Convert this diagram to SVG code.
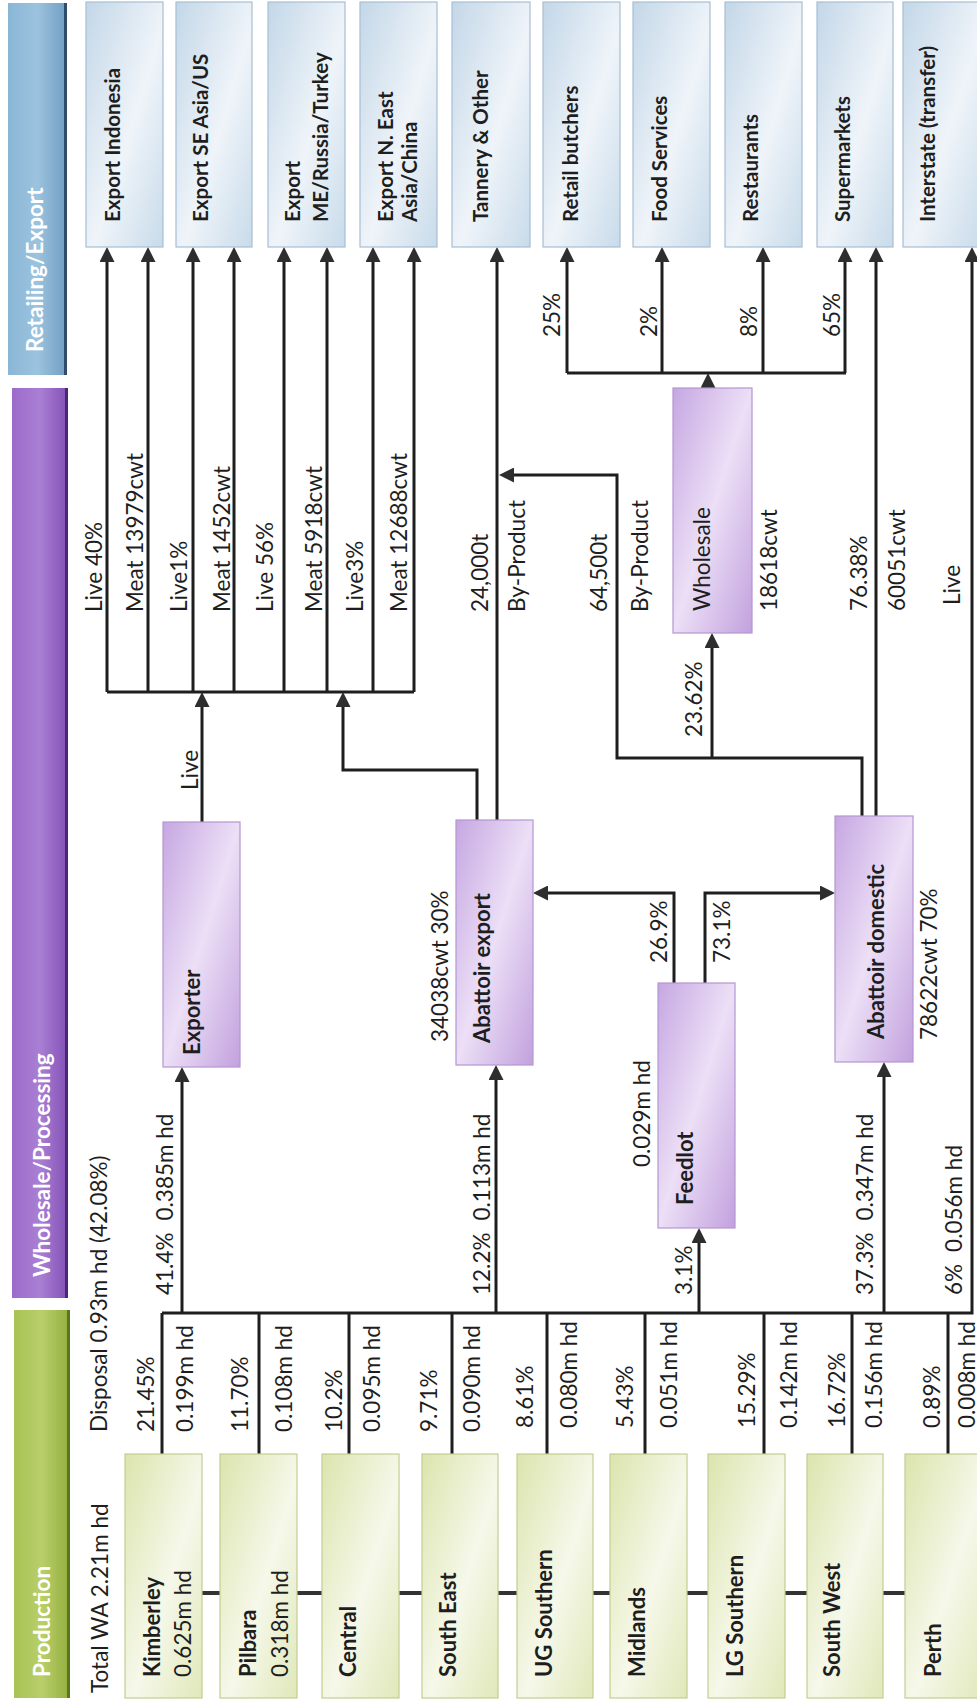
<svg xmlns="http://www.w3.org/2000/svg" width="977" height="1708" viewBox="0 0 977 1708">
<defs>
<linearGradient id="gGreen" x1="0" y1="0" x2="1" y2="1"><stop offset="0" stop-color="#dbe5ad"/><stop offset="0.55" stop-color="#f6f8ea"/><stop offset="1" stop-color="#e0e8b9"/></linearGradient>
<linearGradient id="gPurple" x1="0" y1="0" x2="1" y2="1"><stop offset="0" stop-color="#c6a7e2"/><stop offset="0.5" stop-color="#ecdff6"/><stop offset="1" stop-color="#c2a1de"/></linearGradient>
<linearGradient id="gBlue" x1="0" y1="0" x2="1" y2="1"><stop offset="0" stop-color="#c3d7e8"/><stop offset="0.55" stop-color="#eff4f9"/><stop offset="1" stop-color="#c8dbea"/></linearGradient>
<linearGradient id="bGreen" x1="0" y1="0" x2="1" y2="0"><stop offset="0" stop-color="#a9c255"/><stop offset="0.5" stop-color="#b9cf6a"/><stop offset="1" stop-color="#93ae3e"/></linearGradient>
<linearGradient id="bPurple" x1="0" y1="0" x2="1" y2="0"><stop offset="0" stop-color="#9c6bcb"/><stop offset="0.5" stop-color="#a97fd3"/><stop offset="1" stop-color="#8250b6"/></linearGradient>
<linearGradient id="bBlue" x1="0" y1="0" x2="1" y2="0"><stop offset="0" stop-color="#8ab6d6"/><stop offset="0.5" stop-color="#9cc3de"/><stop offset="1" stop-color="#6f9dc2"/></linearGradient>
<marker id="ah" viewBox="0 0 15 15" refX="5" refY="7.5" markerWidth="15" markerHeight="15" markerUnits="userSpaceOnUse" orient="auto"><path d="M0,0 L15,7.5 L0,15 z" fill="#2e2e2e"/></marker>
<style>
.ln{fill:none;stroke:#1e1e1e;stroke-width:3}
.ar{marker-end:url(#ah)}
.hb{fill:none;stroke:#333;stroke-width:4}
.gbox{fill:url(#gGreen);stroke:#c3cd92;stroke-width:1.2}
.pbox{fill:url(#gPurple);stroke:#b596d3;stroke-width:1.2}
.bbox{fill:url(#gBlue);stroke:#a7bfd4;stroke-width:1.2}
text{font-family:Lato,"Liberation Sans",sans-serif;font-size:22.5px;fill:#1e1e1e}
.b{font-weight:bold;font-size:22px}
.t{font-size:20.5px;font-weight:bold}
.ban{font-weight:bold;fill:#ffffff;font-size:22.5px}
</style>
</defs>
<rect width="977" height="1708" fill="#ffffff"/>

<g id="banner-retail"><rect x="8" y="3" width="59" height="372" fill="url(#bBlue)"/><rect x="64" y="3" width="3" height="372" fill="#2f4d6b"/><text class="ban" transform="translate(43,352) rotate(-90)">Retailing/Export</text></g>
<g id="banner-wholesale"><rect x="12" y="388" width="56" height="910" fill="url(#bPurple)"/><rect x="65" y="388" width="3" height="910" fill="#4b2777"/><text class="ban" transform="translate(50,1277) rotate(-90)">Wholesale/Processing</text></g>
<g id="banner-production"><rect x="14" y="1310" width="56" height="388" fill="url(#bGreen)"/><rect x="67" y="1310" width="3" height="388" fill="#5b771c"/><text class="ban" transform="translate(50,1677) rotate(-90)">Production</text></g>

<g id="connectors">
<path class="ln" d="M162,1454V1313M259,1454V1313M349,1454V1313M452,1454V1313M547,1454V1313M645,1454V1313M764,1454V1313M852,1454V1313M948,1454V1313"/>
<path class="hb" d="M202,1593H220M297,1593H322M399,1593H422M498,1593H517M593,1593H610M687,1593H708M785,1593H807M883,1593H905"/>
<path class="ln ar" d="M162,1313H972V257"/>
<path class="ln ar" d="M182,1313V1077"/>
<path class="ln ar" d="M496,1313V1075"/>
<path class="ln ar" d="M699,1313V1238"/>
<path class="ln ar" d="M884,1313V1072"/>
<path class="ln ar" d="M674,983V893H543"/>
<path class="ln ar" d="M705,983V893H825"/>
<path class="ln ar" d="M202,822V702"/>
<path class="ln ar" d="M477,820V770H343V702"/>
<path class="ln" d="M107,692H414"/>
<path class="ln ar" d="M107,692V257"/>
<path class="ln ar" d="M148,692V257"/>
<path class="ln ar" d="M193,692V257"/>
<path class="ln ar" d="M234,692V257"/>
<path class="ln ar" d="M284,692V257"/>
<path class="ln ar" d="M327,692V257"/>
<path class="ln ar" d="M373,692V257"/>
<path class="ln ar" d="M414,692V257"/>
<path class="ln ar" d="M497,820V257"/>
<path class="ln ar" d="M862,816V758H617V475H509"/>
<path class="ln ar" d="M712,758V643"/>
<path class="ln ar" d="M876,816V257"/>
<path class="ln ar" d="M708,388V383"/>
<path class="ln" d="M567,373H846"/>
<path class="ln ar" d="M567,373V257"/>
<path class="ln ar" d="M662,373V257"/>
<path class="ln ar" d="M763,373V257"/>
<path class="ln ar" d="M845,373V257"/>
</g>

<g id="labels">
<text transform="translate(108,1693) rotate(-90)">Total WA 2.21m hd</text>
<text transform="translate(107,1432) rotate(-90)">Disposal 0.93m hd (42.08%)</text>
<text transform="translate(154,1432) rotate(-90)">21.45%</text>
<text transform="translate(193,1432) rotate(-90)">0.199m hd</text>
<text transform="translate(248,1432) rotate(-90)">11.70%</text>
<text transform="translate(292,1432) rotate(-90)">0.108m hd</text>
<text transform="translate(342,1432) rotate(-90)">10.2%</text>
<text transform="translate(380,1432) rotate(-90)">0.095m hd</text>
<text transform="translate(437,1432) rotate(-90)">9.71%</text>
<text transform="translate(480,1432) rotate(-90)">0.090m hd</text>
<text transform="translate(533,1428) rotate(-90)">8.61%</text>
<text transform="translate(577,1428) rotate(-90)">0.080m hd</text>
<text transform="translate(633,1428) rotate(-90)">5.43%</text>
<text transform="translate(677,1428) rotate(-90)">0.051m hd</text>
<text transform="translate(755,1428) rotate(-90)">15.29%</text>
<text transform="translate(797,1428) rotate(-90)">0.142m hd</text>
<text transform="translate(845,1428) rotate(-90)">16.72%</text>
<text transform="translate(882,1428) rotate(-90)">0.156m hd</text>
<text transform="translate(940,1428) rotate(-90)">0.89%</text>
<text transform="translate(975,1428) rotate(-90)">0.008m hd</text>
<text transform="translate(173,1295) rotate(-90)">41.4%<tspan dx="12">0.385m hd</tspan></text>
<text transform="translate(490,1295) rotate(-90)">12.2%<tspan dx="12">0.113m hd</tspan></text>
<text transform="translate(692,1295) rotate(-90)">3.1%</text>
<text transform="translate(873,1295) rotate(-90)">37.3%<tspan dx="12">0.347m hd</tspan></text>
<text transform="translate(962,1295) rotate(-90)">6%<tspan dx="12">0.056m hd</tspan></text>
<text transform="translate(650,1167) rotate(-90)">0.029m hd</text>
<text transform="translate(667,963) rotate(-90)">26.9%</text>
<text transform="translate(730,963) rotate(-90)">73.1%</text>
<text transform="translate(448,1042) rotate(-90)">34038cwt 30%</text>
<text transform="translate(937,1040) rotate(-90)">78622cwt 70%</text>
<text transform="translate(198,790) rotate(-90)">Live</text>
<text transform="translate(702,737) rotate(-90)">23.62%</text>
<text transform="translate(102,612) rotate(-90)">Live 40%</text>
<text transform="translate(143,612) rotate(-90)">Meat 13979cwt</text>
<text transform="translate(187,612) rotate(-90)">Live1%</text>
<text transform="translate(230,612) rotate(-90)">Meat 1452cwt</text>
<text transform="translate(273,612) rotate(-90)">Live 56%</text>
<text transform="translate(322,612) rotate(-90)">Meat 5918cwt</text>
<text transform="translate(363,612) rotate(-90)">Live3%</text>
<text transform="translate(407,612) rotate(-90)">Meat 12688cwt</text>
<text transform="translate(488,612) rotate(-90)">24,000t</text>
<text transform="translate(525,612) rotate(-90)">By-Product</text>
<text transform="translate(607,612) rotate(-90)">64,500t</text>
<text transform="translate(648,612) rotate(-90)">By-Product</text>
<text transform="translate(777,611) rotate(-90)">18618cwt</text>
<text transform="translate(867,611) rotate(-90)">76.38%</text>
<text transform="translate(905,611) rotate(-90)">60051cwt</text>
<text transform="translate(960,605) rotate(-90)">Live</text>
<text transform="translate(560,337) rotate(-90)">25%</text>
<text transform="translate(657,337) rotate(-90)">2%</text>
<text transform="translate(757,337) rotate(-90)">8%</text>
<text transform="translate(840,337) rotate(-90)">65%</text>
</g>

<g id="kimberley"><rect class="gbox" x="125" y="1454" width="77" height="244"/><text class="b" transform="translate(160,1677) rotate(-90)">Kimberley</text><text transform="translate(191,1677) rotate(-90)">0.625m hd</text></g>
<g id="pilbara"><rect class="gbox" x="220" y="1454" width="77" height="244"/><text class="b" transform="translate(256,1677) rotate(-90)">Pilbara</text><text transform="translate(288,1677) rotate(-90)">0.318m hd</text></g>
<g id="central"><rect class="gbox" x="322" y="1454" width="77" height="244"/><text class="b" transform="translate(356,1677) rotate(-90)">Central</text></g>
<g id="south-east"><rect class="gbox" x="422" y="1454" width="76" height="244"/><text class="b" transform="translate(456,1677) rotate(-90)">South East</text></g>
<g id="ug-southern"><rect class="gbox" x="517" y="1454" width="76" height="244"/><text class="b" transform="translate(552,1677) rotate(-90)">UG Southern</text></g>
<g id="midlands"><rect class="gbox" x="610" y="1454" width="77" height="244"/><text class="b" transform="translate(645,1677) rotate(-90)">Midlands</text></g>
<g id="lg-southern"><rect class="gbox" x="708" y="1454" width="77" height="244"/><text class="b" transform="translate(743,1677) rotate(-90)">LG Southern</text></g>
<g id="south-west"><rect class="gbox" x="807" y="1454" width="76" height="244"/><text class="b" transform="translate(840,1677) rotate(-90)">South West</text></g>
<g id="perth"><rect class="gbox" x="905" y="1454" width="80" height="244"/><text class="b" transform="translate(941,1677) rotate(-90)">Perth</text></g>

<g id="exporter"><rect class="pbox" x="163" y="822" width="77" height="245"/><text class="b" transform="translate(200,1055) rotate(-90)">Exporter</text></g>
<g id="abattoir-export"><rect class="pbox" x="456" y="820" width="77" height="245"/><text class="b" transform="translate(490,1043) rotate(-90)">Abattoir export</text></g>
<g id="feedlot"><rect class="pbox" x="658" y="983" width="77" height="245"/><text class="b" transform="translate(693,1205) rotate(-90)">Feedlot</text></g>
<g id="abattoir-domestic"><rect class="pbox" x="835" y="816" width="78" height="246"/><text class="b" transform="translate(884,1039) rotate(-90)">Abattoir domestic</text></g>
<g id="wholesale"><rect class="pbox" x="673" y="388" width="79" height="245"/><text transform="translate(710,611) rotate(-90)">Wholesale</text></g>

<g id="export-indonesia"><rect class="bbox" x="86" y="2" width="77" height="245"/><text class="t" transform="translate(120,222) rotate(-90)">Export Indonesia</text></g>
<g id="export-se-asia"><rect class="bbox" x="176" y="2" width="76" height="245"/><text class="t" transform="translate(208,222) rotate(-90)">Export SE Asia/US</text></g>
<g id="export-me"><rect class="bbox" x="268" y="2" width="77" height="245"/><text class="t" transform="translate(300,222) rotate(-90)">Export</text><text class="t" transform="translate(328,222) rotate(-90)">ME/Russia/Turkey</text></g>
<g id="export-ne-asia"><rect class="bbox" x="360" y="2" width="77" height="245"/><text class="t" transform="translate(393,222) rotate(-90)">Export N. East</text><text class="t" transform="translate(417,222) rotate(-90)">Asia/China</text></g>
<g id="tannery"><rect class="bbox" x="452" y="2" width="78" height="245"/><text class="t" transform="translate(488,222) rotate(-90)">Tannery &amp; Other</text></g>
<g id="retail-butchers"><rect class="bbox" x="543" y="2" width="77" height="245"/><text class="t" transform="translate(578,222) rotate(-90)">Retail butchers</text></g>
<g id="food-services"><rect class="bbox" x="633" y="2" width="77" height="245"/><text class="t" transform="translate(667,222) rotate(-90)">Food Services</text></g>
<g id="restaurants"><rect class="bbox" x="725" y="2" width="77" height="245"/><text class="t" transform="translate(758,222) rotate(-90)">Restaurants</text></g>
<g id="supermarkets"><rect class="bbox" x="817" y="2" width="76" height="245"/><text class="t" transform="translate(850,222) rotate(-90)">Supermarkets</text></g>
<g id="interstate"><rect class="bbox" x="903" y="2" width="80" height="245"/><text class="t" transform="translate(935,222) rotate(-90)">Interstate (transfer)</text></g>
</svg>
